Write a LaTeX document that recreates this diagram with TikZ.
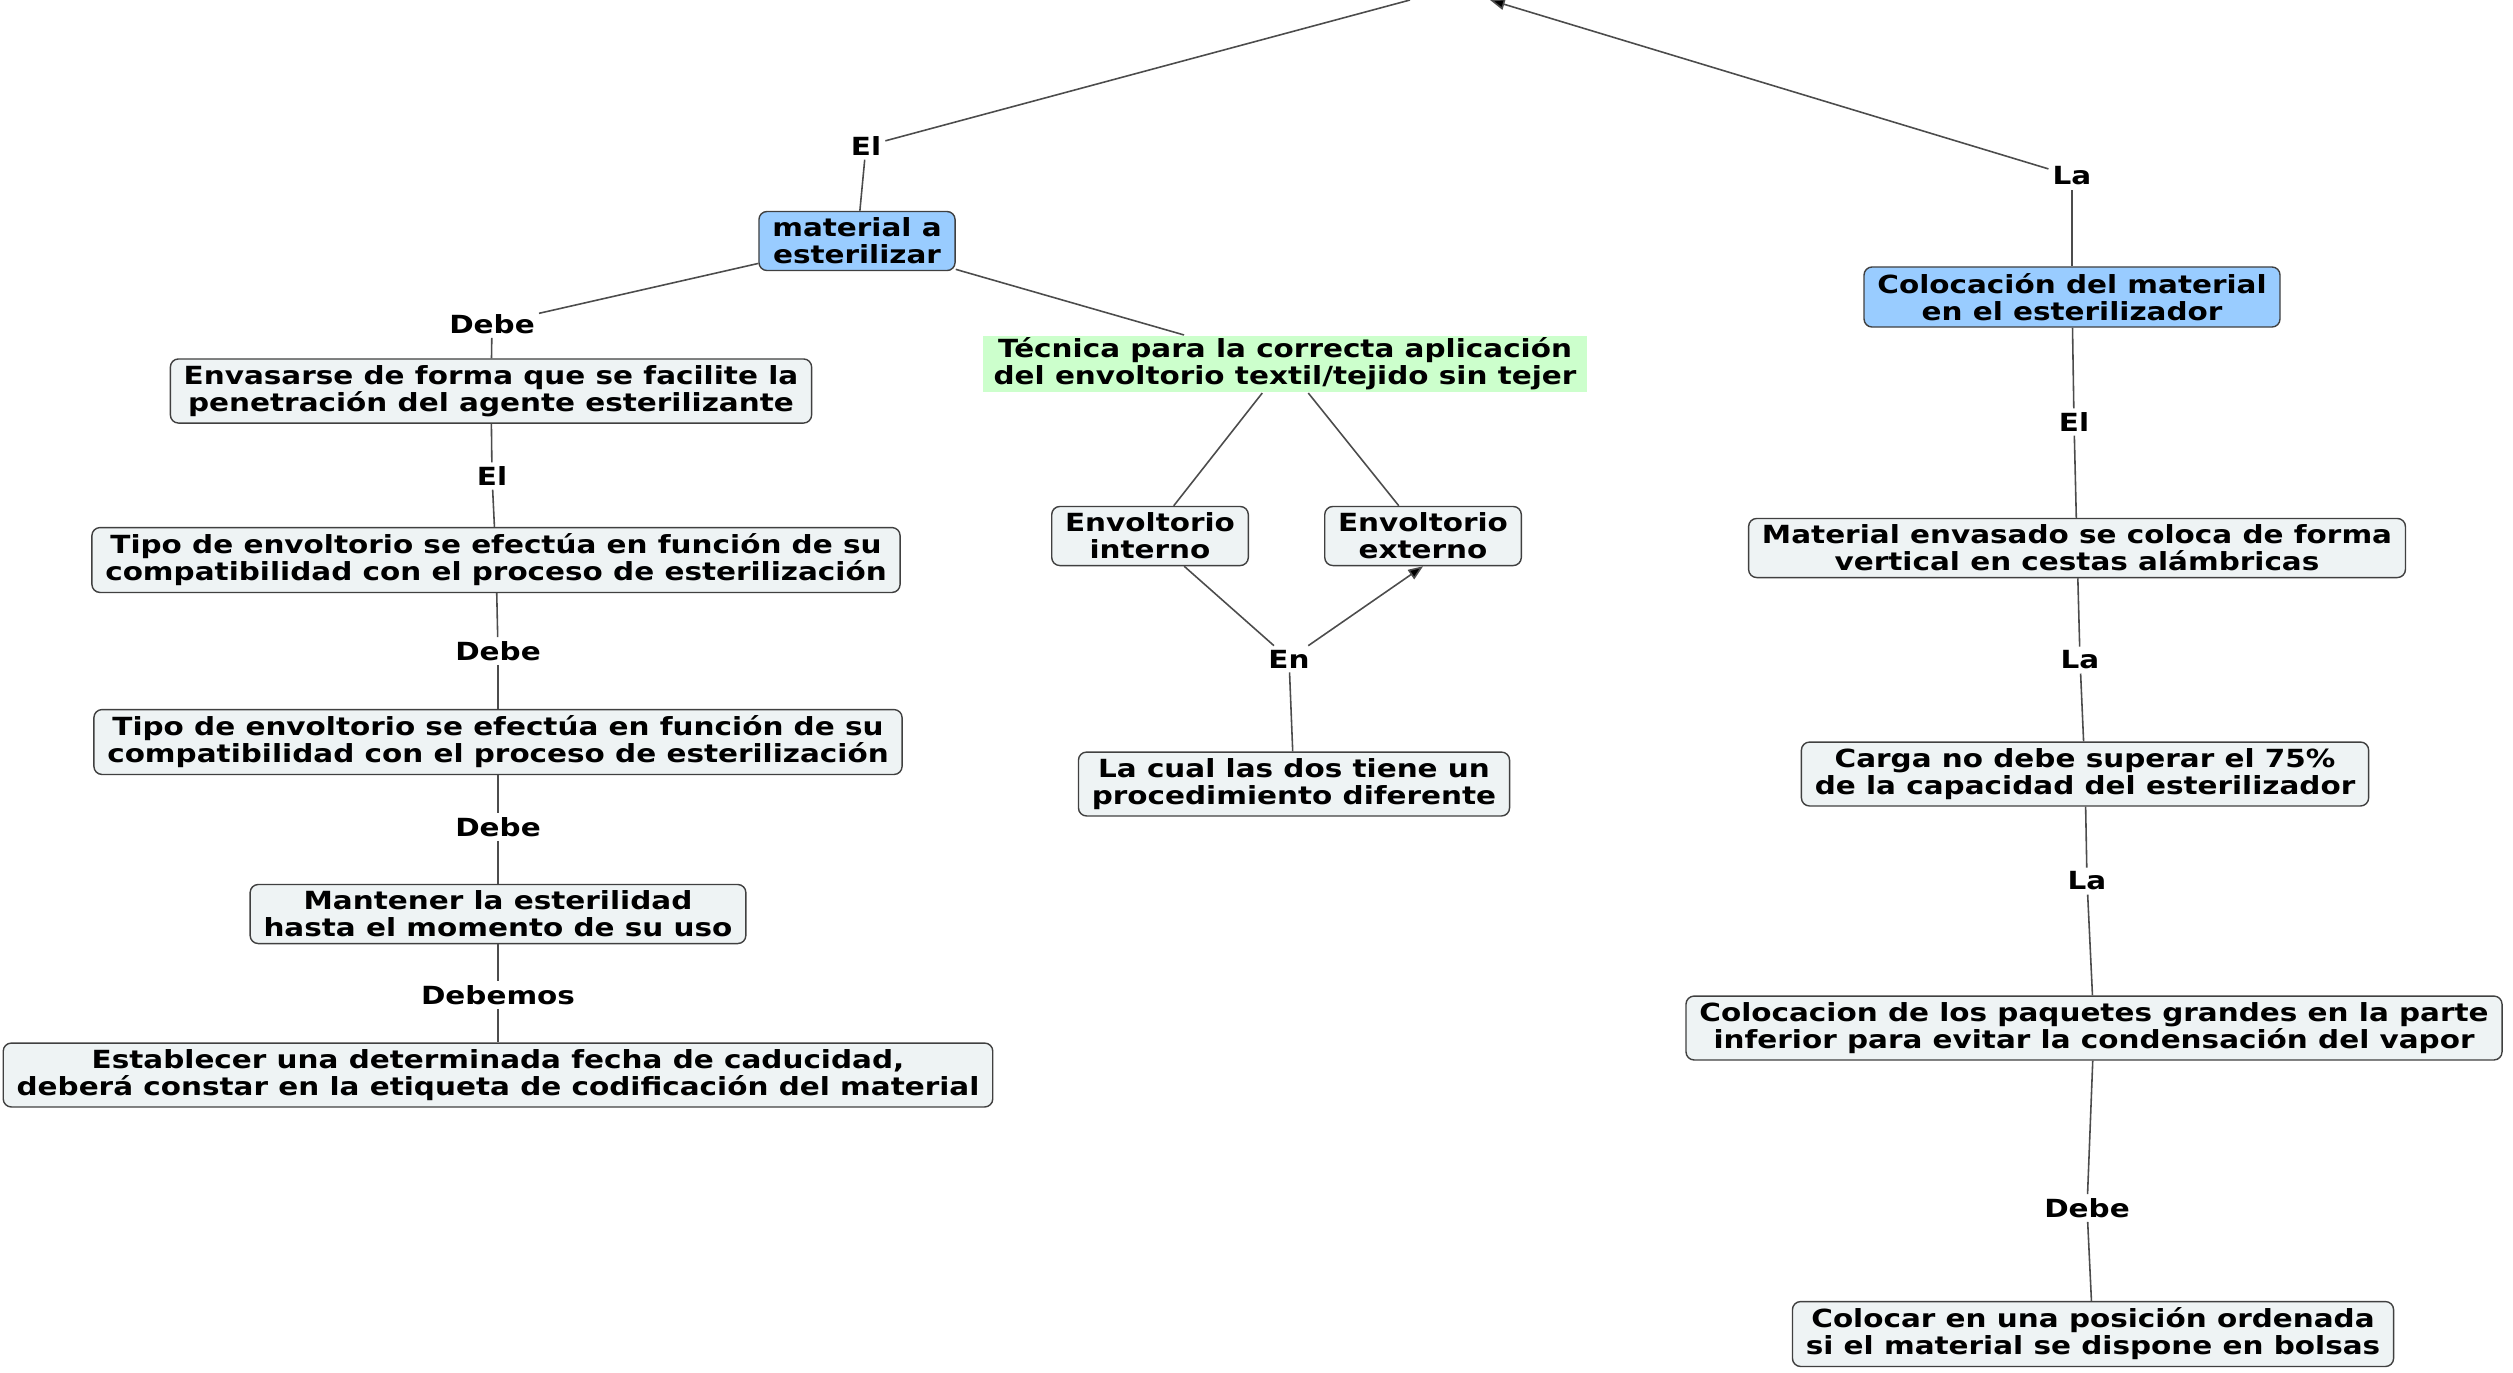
\documentclass[tikz,border=0pt]{standalone}
\usepackage{fontspec}
\setmainfont{DejaVu Sans}[FakeStretch=1.18]
\usepackage{xcolor}
\usetikzlibrary{arrows,arrows.meta,positioning,shapes,calc}
\definecolor{boxgray}{RGB}{238,243,244}
\definecolor{topblue}{RGB}{153,204,255}
\definecolor{techgreen}{RGB}{204,255,204}
\newcommand{\mapfont}{\fontsize{7.1}{7.7}\selectfont\bfseries}

\begin{document}
\begin{tikzpicture}[x=0.01cm,y=-0.01cm,>={Triangle[length=4.2pt,width=3.2pt]},
	main node/.style={rectangle,rounded corners=2.3pt,draw=black!75,fill=boxgray,
		inner xsep=3.8pt,inner ysep=1.8pt,align=center,font=\mapfont},
	top node/.style={main node,fill=topblue},
	green node/.style={rectangle,fill=techgreen,inner xsep=3pt,inner ysep=0.6pt,
		align=center,font=\mapfont},
	link/.style={inner sep=1pt,font=\mapfont}]

	\useasboundingbox (0,0) rectangle (2513,1372);

	\coordinate (TL) at (1410,0);
	\coordinate (TR) at (1490,0);

	% left branch
	\node[top node] (Mat) at (857,241) {material a\\esterilizar};
	\node[main node] (Env) at (491,391) {Envasarse de forma que se facilite la\\penetración del agente esterilizante};
	\node[main node] (TipoA) at (496,560) {Tipo de envoltorio se efectúa en función de su\\compatibilidad con el proceso de esterilización};
	\node[main node] (TipoB) at (498,742) {Tipo de envoltorio se efectúa en función de su\\compatibilidad con el proceso de esterilización};
	\node[main node] (Mant) at (498,914) {Mantener la esterilidad\\hasta el momento de su uso};
	\node[main node] (Est) at (498,1075) {Establecer una determinada fecha de caducidad,\\deberá constar en la etiqueta de codificación del material};

	% middle branch
	\node[green node] (Tec) at (1285,364) {Técnica para la correcta aplicación\\del envoltorio textil/tejido sin tejer};
	\node[main node] (Int) at (1150,536) {Envoltorio\\interno};
	\node[main node] (Ext) [right = 0.75cm of Int] {Envoltorio\\externo};
	\node[main node] (Cual) at (1294,784) {La cual las dos tiene un\\procedimiento diferente};

	% right branch
	\node[top node] (Col) at (2072,297) {Colocación del material\\en el esterilizador};
	\node[main node] (Mev) at (2077,548) {Material envasado se coloca de forma\\vertical en cestas alámbricas};
	\node[main node] (Carga) at (2085,774) {Carga no debe superar el 75\%\\de la capacidad del esterilizador};
	\node[main node] (Paq) at (2094,1028) {Colocacion de los paquetes grandes en la parte\\inferior para evitar la condensación del vapor};
	\node[main node] (Colo) at (2093,1334) {Colocar en una posición ordenada\\si el material se dispone en bolsas};

	% linking words
	\node[link] (lEl) at (866,146) {El};
	\node[link] (lLa) at (2072,176) {La};
	\node[link] (lDebeA) at (492,324) {Debe};
	\node[link] (lElB) at (492,476) {El};
	\node[link] (lDebeB) at (498,651) {Debe};
	\node[link] (lDebeC) at (498,827) {Debe};
	\node[link] (lDebemos) at (498,995) {Debemos};
	\node[link] (lEn) at (1289,659) {En};
	\node[link] (lElC) at (2074,422) {El};
	\node[link] (lLaB) at (2080,660) {La};
	\node[link] (lLaC) at (2087,881) {La};
	\node[link] (lDebeD) at (2087,1208) {Debe};

	\path[draw=black!70,line width=0.45pt]
	(Mat) edge (lEl)
	(lEl) edge (TL)
	(Col) edge (lLa)
	(lLa) edge[->] (TR)
	(Mat) edge (lDebeA)
	(lDebeA) edge (Env)
	(Env) edge (lElB)
	(lElB) edge (TipoA)
	(TipoA) edge (lDebeB)
	(lDebeB) edge (TipoB)
	(TipoB) edge (lDebeC)
	(lDebeC) edge (Mant)
	(Mant) edge (lDebemos)
	(lDebemos) edge (Est)
	(Mat) edge (Tec)
	(Tec) edge (Int)
	(Tec) edge (Ext)
	(Int) edge (lEn)
	(lEn) edge[->] (Ext.south)
	(lEn) edge (Cual)
	(Col) edge (lElC)
	(lElC) edge (Mev)
	(Mev) edge (lLaB)
	(lLaB) edge (Carga)
	(Carga) edge (lLaC)
	(lLaC) edge (Paq)
	(Paq) edge (lDebeD)
	(lDebeD) edge (Colo);

\end{tikzpicture}
\end{document}
